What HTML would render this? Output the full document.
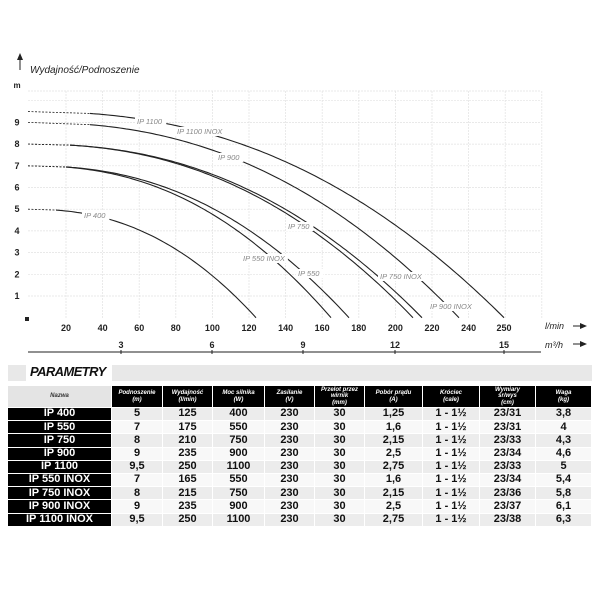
<!DOCTYPE html>
<html><head><meta charset="utf-8"><style>
body{margin:0;background:#fff;width:600px;height:600px;overflow:hidden;font-family:"Liberation Sans",sans-serif}
svg{position:absolute;left:0;top:0}
</style></head><body>
<svg id="s" width="600" height="600" viewBox="0 0 600 600" xmlns="http://www.w3.org/2000/svg" font-family="Liberation Sans, sans-serif">
<g id="grid" stroke="#e2e2e2" stroke-width="0.7" stroke-dasharray="2,1"></g>
<g id="curves" fill="none" stroke="#222" stroke-width="1.1"></g>
<g id="labels" font-size="7.5" font-style="italic" fill="#888"></g>
<g font-size="9" font-weight="bold" fill="#222" text-anchor="middle" id="ax"></g>
<text x="30" y="73" font-size="10" font-style="italic" fill="#222">Wydajność/Podnoszenie</text>
<polygon points="17,60 20,53 23,60" fill="#222"/><line x1="20" y1="58" x2="20" y2="70" stroke="#222" stroke-width="1"/>
<text x="17" y="88" font-size="8" font-weight="bold" fill="#222" text-anchor="middle">m</text>
<rect x="25" y="317" width="4" height="4" fill="#222"/>
<line x1="28" y1="352" x2="541" y2="352" stroke="#222" stroke-width="1"/>
<text x="545" y="329" font-size="9" font-style="italic" fill="#222">l/min</text>
<text x="545" y="348" font-size="9" font-style="italic" fill="#222">m³/h</text>
<line x1="573" y1="326" x2="583" y2="326" stroke="#222"/><polygon points="580,323 587,326 580,329" fill="#222"/>
<line x1="573" y1="344" x2="583" y2="344" stroke="#222"/><polygon points="580,341 587,344 580,347" fill="#222"/>
</svg>
<div style="position:absolute;left:8px;top:365px;width:18px;height:16px;background:#e8e8e8"></div>
<div style="position:absolute;left:112px;top:365px;width:480px;height:16px;background:#e8e8e8"></div>
<div style="position:absolute;left:30px;top:364px;font:italic bold 13px 'Liberation Sans',sans-serif;letter-spacing:-0.6px;color:#111;z-index:2">PARAMETRY</div>
<div id="tbl" style="position:absolute;left:0;top:0"></div>
<script>
const NS="http://www.w3.org/2000/svg";
function el(p,t,a,txt){const e=document.createElementNS(NS,t);for(const k in a)e.setAttribute(k,a[k]);if(txt!==undefined)e.textContent=txt;p.appendChild(e);return e;}
const Y=h=>317.7-h*21.7;
const g=document.getElementById('grid');
for(let i=0;i<14;i++){const x=66+i*36.6;if(x<545)el(g,'line',{x1:x,y1:91,x2:x,y2:318});}
el(g,'line',{x1:28,y1:91,x2:541,y2:91});
for(let h=1;h<=10;h++)el(g,'line',{x1:28,y1:Y(h),x2:541,y2:Y(h)});
const ax=document.getElementById('ax');
for(let i=0;i<12;i++)el(ax,'text',{x:66+i*36.6,y:331},20+i*20);
el(ax,'text',{x:504,y:331},250);
for(let h=1;h<=9;h++)el(ax,'text',{x:17,y:Y(h)+3},h);
[[3,121],[6,212],[9,303],[12,395],[15,504]].forEach(([m,x])=>{el(ax,'text',{x:x,y:348},m);el(ax,'line',{x1:x,y1:350,x2:x,y2:354,stroke:'#222'});});
const c=document.getElementById('curves');
const curves=[[9.5,504,90],[9,459,90],[8,413,70],[8,422,70],[7,331,66],[7,349,66],[5,256,56]];
const X0=28;
curves.forEach(([h0,xe,xd])=>{
 const H=x=>h0*(1-Math.pow((x-X0)/(xe-X0),2.3));
 el(c,'path',{d:'M'+X0+','+Y(h0)+' L'+xd+','+Y(H(xd)),'stroke-dasharray':'2,1.5','stroke-width':0.8});
 let p='';for(let x=xd;x<=xe;x+=3)p+=(p?'L':'M')+x.toFixed(1)+','+Y(H(x)).toFixed(1)+' ';
 p+='L'+xe+','+Y(0);el(c,'path',{d:p});
});
const L=document.getElementById('labels');
[["IP 1100",137,124],["IP 1100 INOX",177,134],["IP 900",218,160],["IP 750",288,229],["IP 550 INOX",243,261],["IP 550",298,276],["IP 750 INOX",380,279],["IP 900 INOX",430,309],["IP 400",84,218]].forEach(([t,x,y])=>{
 const w=t.length*3.9;el(L,'rect',{x:x-2,y:y-7,width:w+4,height:9,fill:'#fff'});el(L,'text',{x:x,y:y},t);});
const cols=[8,112,163,213,265,315,365,423,480,536,592];
const heads=["Nazwa","Podnoszenie<br>(m)","Wydajność<br>(l/min)","Moc silnika<br>(W)","Zasilanie<br>(V)","Przelot przez<br>wirnik<br>(mm)","Pobór prądu<br>(A)","Króciec<br>(cale)","Wymiary<br>śr/wys<br>(cm)","Waga<br>(kg)"];
const rows=[["IP 400","5","125","400","230","30","1,25","1 - 1½","23/31","3,8"],["IP 550","7","175","550","230","30","1,6","1 - 1½","23/31","4"],["IP 750","8","210","750","230","30","2,15","1 - 1½","23/33","4,3"],["IP 900","9","235","900","230","30","2,5","1 - 1½","23/34","4,6"],["IP 1100","9,5","250","1100","230","30","2,75","1 - 1½","23/33","5"],["IP 550 INOX","7","165","550","230","30","1,6","1 - 1½","23/34","5,4"],["IP 750 INOX","8","215","750","230","30","2,15","1 - 1½","23/36","5,8"],["IP 900 INOX","9","235","900","230","30","2,5","1 - 1½","23/37","6,1"],["IP 1100 INOX","9,5","250","1100","230","30","2,75","1 - 1½","23/38","6,3"]];
let h='';
const cell=(x,y,w,ht,bg,col,fs,txt,extra)=>`<div style="position:absolute;left:${x}px;top:${y}px;width:${w}px;height:${ht}px;background:${bg};color:${col};font:${extra||'bold'} ${fs}px 'Liberation Sans',sans-serif;display:flex;align-items:center;justify-content:center;text-align:center;line-height:1.05;box-sizing:border-box;border-right:1px solid #fff;border-bottom:1px solid #fff">${txt}</div>`;
for(let i=0;i<10;i++){const x=cols[i],w=cols[i+1]-x;h+=cell(x,386,w,22,i==0?'#e4e4e4':'#000',i==0?'#333':'#fff',6,heads[i],'italic bold');}
rows.forEach((r,j)=>{const y=408+j*13.2;const bg=j%2==0?'#ececec':'#f8f8f8';
 for(let i=0;i<10;i++){const x=cols[i],w=cols[i+1]-x;h+=cell(x,y,w,13.2,i==0?'#000':bg,i==0?'#fff':'#111',11,r[i]);}});
document.getElementById('tbl').innerHTML=h;
</script>
</body></html>
